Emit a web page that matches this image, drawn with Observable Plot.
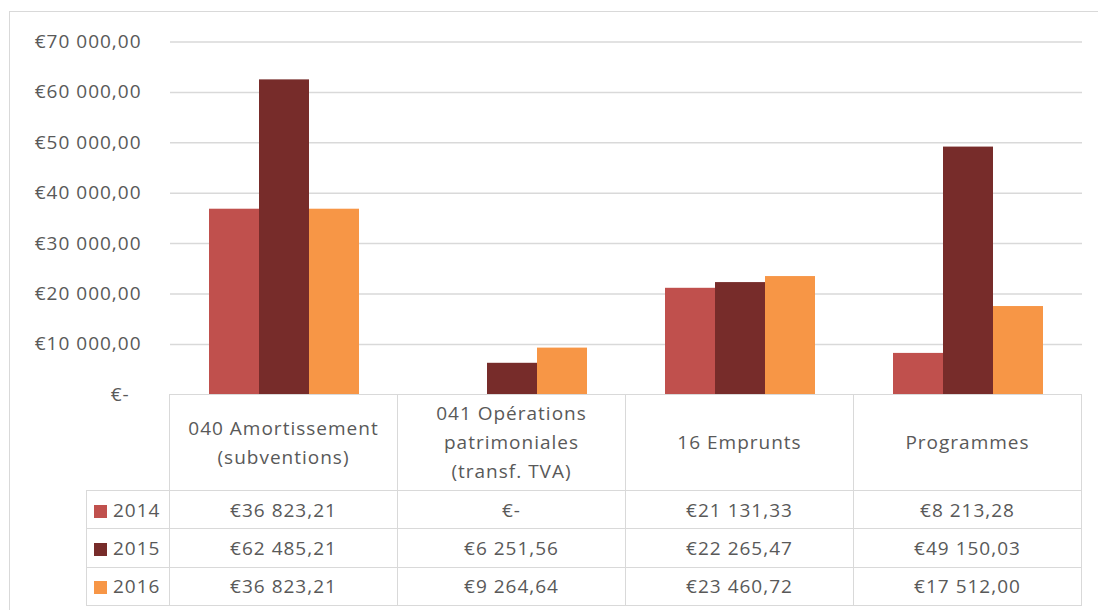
<!DOCTYPE html>
<html>
<head>
<meta charset="utf-8">
<script src="https://cdn.jsdelivr.net/npm/d3@7"></script>
<script src="https://cdn.jsdelivr.net/npm/@observablehq/plot@0.6"></script>
<style>
  html, body { margin: 0; padding: 0; background: #fff; }
  #wrap { position: relative; width: 1098px; height: 610px; overflow: hidden; font-family: "Open Sans", sans-serif; color: #595959; }
  #frame { position: absolute; left: 9px; top: 11px; width: 1200px; height: 700px; border: 1.5px solid #D9D9D9; box-sizing: border-box; }
  #chart { position: absolute; left: 0; top: 0; }
  #chart svg text { letter-spacing: 1px; }
  table.dt { position: absolute; border-collapse: collapse; table-layout: fixed; font-family: "Open Sans", sans-serif; font-size: 19px; letter-spacing: 1px; color: #595959; }
  table.dt td { border: 1.5px solid #D9D9D9; text-align: center; vertical-align: middle; padding: 0; white-space: nowrap; }
  table.dt td.corner { border-top: none; border-left: none; }
  table.dt td.hdr { line-height: 29px; }
  table.dt td.lab { text-align: left; padding-left: 7px; }
  .sw { display: inline-block; width: 13px; height: 13px; margin-right: 6px; vertical-align: -1px; }
</style>
</head>
<body>
<div id="wrap">
  <div id="frame"></div>
  <div id="chart"></div>
</div>
<script>
const categories = ["040 Amortissement (subventions)", "041 Opérations patrimoniales (transf. TVA)", "16 Emprunts", "Programmes"];
const categoryLines = [["040 Amortissement", "(subventions)"], ["041 Opérations", "patrimoniales", "(transf. TVA)"], ["16 Emprunts"], ["Programmes"]];
const years = ["2014", "2015", "2016"];
const values2014 = [36823.21, 0, 21131.33, 8213.28];
const values2015 = [62485.21, 6251.56, 22265.47, 49150.03];
const values2016 = [36823.21, 9264.64, 23460.72, 17512.00];
const seriesColors = ["#C0504D", "#772C2A", "#F79646"];
const yTicks = [0, 10000, 20000, 30000, 40000, 50000, 60000, 70000];
const yTickLabels = ["€-\u2007", "€10 000,00", "€20 000,00", "€30 000,00", "€40 000,00", "€50 000,00", "€60 000,00", "€70 000,00"];

const series = [values2014, values2015, values2016];
const data = [];
categories.forEach((c, i) => years.forEach((y, j) => data.push({category: c, year: y, value: series[j][i]})));

function euro(v) {
  if (v === 0) return "€-";
  const [intPart, dec] = v.toFixed(2).split(".");
  return "€" + intPart.replace(/\B(?=(\d{3})+(?!\d))/g, " ") + "," + dec;
}

const chart = Plot.plot({
  width: 1098,
  height: 410,
  marginLeft: 169,
  marginRight: 16,
  marginTop: 41.5,
  marginBottom: 15.7,
  style: "font-family:'Open Sans',sans-serif;font-size:19px;color:#595959;overflow:visible;background:transparent;",
  fx: {domain: categories, padding: 0, axis: null, label: null},
  x: {domain: years, paddingInner: 0, paddingOuter: 0.75, axis: null, label: null},
  y: {domain: [0, 70000], ticks: yTicks, tickFormat: d => yTickLabels[yTicks.indexOf(d)], tickSize: 0, tickPadding: 29, label: null},
  color: {domain: years, range: seriesColors},
  marks: [
    Plot.gridY(yTicks.filter(d => d > 0), {stroke: "#D9D9D9", strokeOpacity: 1, strokeWidth: 1.5}),
    Plot.barY(data, {fx: "category", x: "year", y: "value", fill: "year", insetLeft: 0, insetRight: 0})
  ]
});
document.getElementById("chart").appendChild(chart);

// Data table aligned to the plot's fx scale
const fx = chart.scale("fx");
const left0 = fx.apply(categories[0]) ;
const bw = fx.bandwidth;
const tableLeft = 86;
const table = document.createElement("table");
table.className = "dt";
table.style.left = tableLeft + "px";
table.style.top = "394px";
const labW = 169 - tableLeft;
table.style.width = (labW + bw * categories.length) + "px";
const colgroup = document.createElement("colgroup");
const c0 = document.createElement("col"); c0.style.width = labW + "px"; colgroup.appendChild(c0);
categories.forEach(() => { const c = document.createElement("col"); c.style.width = bw + "px"; colgroup.appendChild(c); });
table.appendChild(colgroup);

const hr = document.createElement("tr");
hr.style.height = "96px";
const corner = document.createElement("td"); corner.className = "corner"; hr.appendChild(corner);
categoryLines.forEach(lines => {
  const td = document.createElement("td"); td.className = "hdr";
  td.innerHTML = lines.map(l => l.replace(/&/g, "&amp;")).join("<br>");
  hr.appendChild(td);
});
table.appendChild(hr);

years.forEach((y, j) => {
  const tr = document.createElement("tr");
  tr.style.height = "38.3px";
  const lab = document.createElement("td"); lab.className = "lab";
  const sw = document.createElement("span"); sw.className = "sw"; sw.style.background = seriesColors[j];
  lab.appendChild(sw); lab.appendChild(document.createTextNode(y));
  tr.appendChild(lab);
  categories.forEach((c, i) => {
    const td = document.createElement("td");
    td.textContent = euro(series[j][i]);
    tr.appendChild(td);
  });
  table.appendChild(tr);
});
document.getElementById("wrap").appendChild(table);
</script>
</body>
</html>
